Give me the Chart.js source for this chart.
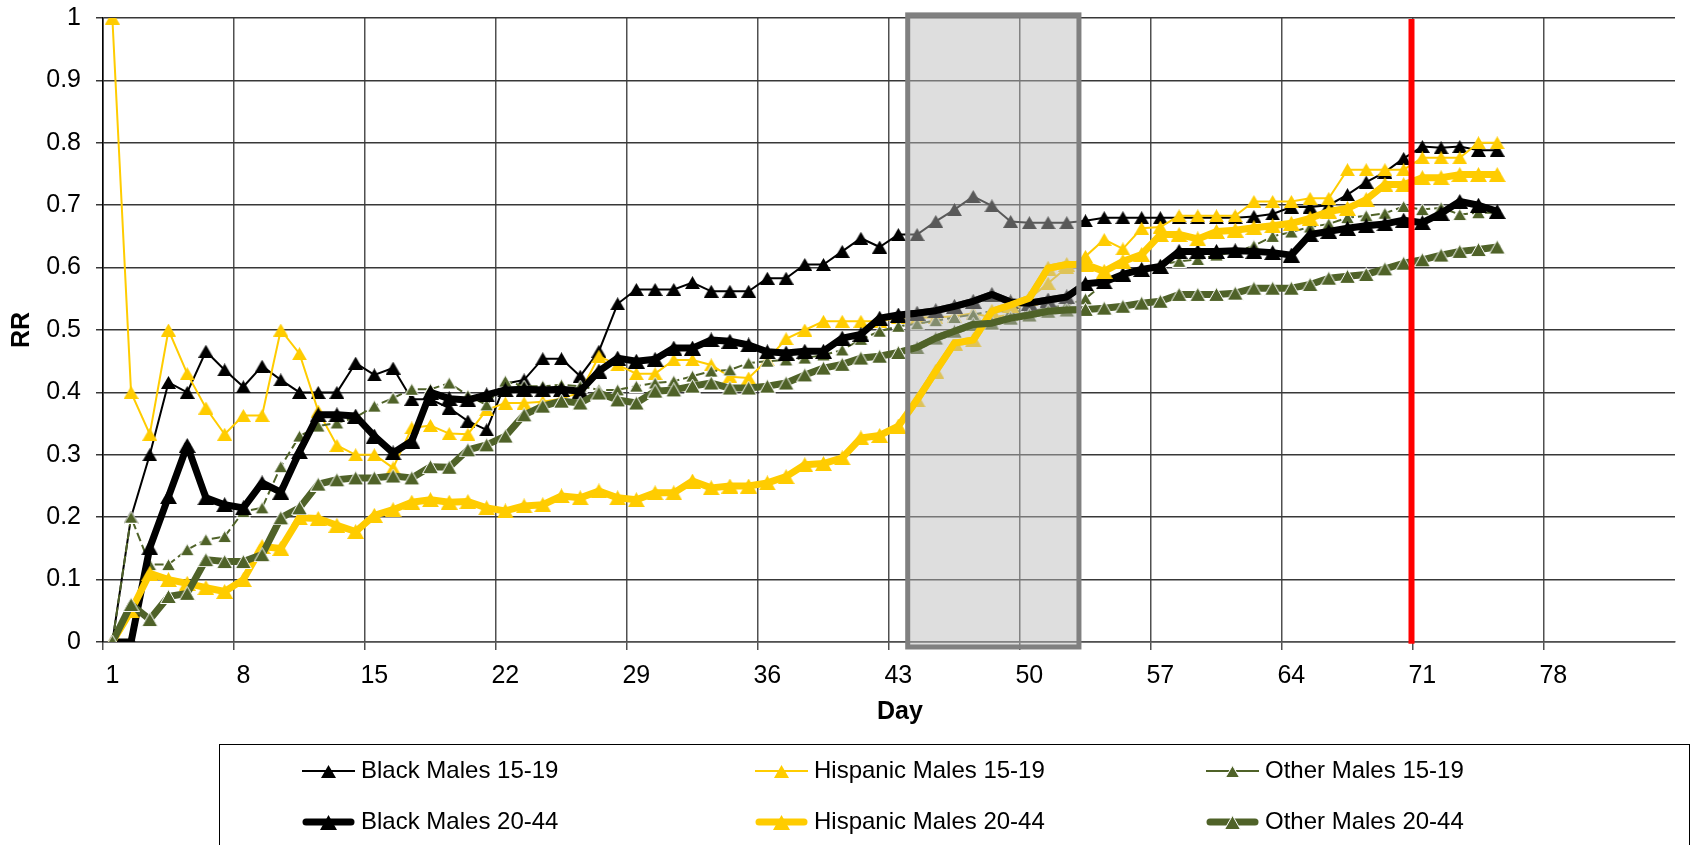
<!DOCTYPE html>
<html>
<head>
<meta charset="utf-8">
<title>RR by day</title>
<script src="https://cdn.jsdelivr.net/npm/chart.js@4/dist/chart.umd.min.js"></script>
<style>
  html, body { margin: 0; padding: 0; background: #ffffff; }
  #wrap { width: 1691px; height: 845px; position: relative; }
</style>
</head>
<body>
<div id="wrap"><canvas id="rr" width="1691" height="845"></canvas></div>
<script>
// Day axis: 84 category slots, labelled every 7th day
const days = Array.from({ length: 84 }, (_, i) => String(i + 1));
const dayTickEvery = 7;

// Relative risk by day, one array per group (days 1-75)
const blackMales15to19 = [
  0, 0.2, 0.3, 0.416, 0.4, 0.466, 0.436, 0.409, 0.442, 0.42,
  0.4, 0.4, 0.4, 0.447, 0.428, 0.439, 0.389, 0.389, 0.375, 0.354,
  0.34, 0.414, 0.42, 0.454, 0.454, 0.426, 0.466, 0.542, 0.565, 0.565,
  0.565, 0.576, 0.562, 0.562, 0.562, 0.583, 0.583, 0.605, 0.605, 0.626,
  0.647, 0.633, 0.653, 0.653, 0.674, 0.693, 0.714, 0.699, 0.674, 0.672,
  0.672, 0.672, 0.675, 0.68, 0.68, 0.68, 0.68, 0.68, 0.68, 0.68,
  0.68, 0.682, 0.686, 0.697, 0.697, 0.7, 0.717, 0.737, 0.753, 0.775,
  0.794, 0.792, 0.794, 0.788, 0.788
];
const hispanicMales15to19 = [
  1.0, 0.4, 0.333, 0.5, 0.43, 0.375, 0.333, 0.363, 0.363, 0.5,
  0.462, 0.37, 0.315, 0.3, 0.3, 0.279, 0.343, 0.347, 0.334, 0.333,
  0.372, 0.383, 0.383, 0.385, 0.39, 0.4, 0.458, 0.444, 0.43, 0.43,
  0.452, 0.452, 0.444, 0.425, 0.423, 0.452, 0.486, 0.5, 0.514, 0.514,
  0.514, 0.514, 0.52, 0.52, 0.52, 0.522, 0.527, 0.52, 0.525, 0.55,
  0.575, 0.6, 0.618, 0.645, 0.63, 0.663, 0.665, 0.683, 0.683, 0.683,
  0.683, 0.706, 0.706, 0.706, 0.711, 0.711, 0.757, 0.757, 0.757, 0.757,
  0.776, 0.776, 0.776, 0.8, 0.8
];
const otherMales15to19 = [
  0, 0.2, 0.124, 0.124, 0.148, 0.164, 0.169, 0.209, 0.215, 0.281,
  0.33, 0.346, 0.351, 0.36, 0.378, 0.391, 0.405, 0.405, 0.415, 0.395,
  0.38, 0.418, 0.41, 0.41, 0.412, 0.41, 0.404, 0.404, 0.41, 0.415,
  0.418, 0.426, 0.434, 0.436, 0.447, 0.45, 0.452, 0.455, 0.46, 0.468,
  0.485, 0.498, 0.506, 0.51, 0.515, 0.52, 0.525, 0.53, 0.53, 0.53,
  0.535, 0.54, 0.55, 0.575, 0.59, 0.6, 0.605, 0.61, 0.613, 0.62,
  0.625, 0.635, 0.65, 0.657, 0.665, 0.67, 0.68, 0.683, 0.687, 0.698,
  0.693, 0.696, 0.685, 0.688, 0.688
];
const blackMales20to44 = [
  0, 0, 0.151, 0.233, 0.315, 0.231, 0.22, 0.215, 0.255, 0.24,
  0.305, 0.364, 0.364, 0.362, 0.33, 0.303, 0.322, 0.4, 0.39, 0.388,
  0.396, 0.404, 0.405, 0.404, 0.405, 0.402, 0.434, 0.455, 0.45, 0.453,
  0.471, 0.471, 0.484, 0.482, 0.476, 0.465, 0.463, 0.466, 0.466, 0.487,
  0.493, 0.519, 0.524, 0.527, 0.531, 0.538, 0.546, 0.557, 0.545, 0.543,
  0.548, 0.553, 0.574, 0.577, 0.589, 0.597, 0.602, 0.626, 0.626, 0.626,
  0.627, 0.626, 0.624, 0.62, 0.653, 0.658, 0.663, 0.667, 0.67, 0.676,
  0.672, 0.687, 0.706, 0.7, 0.69
];
const hispanicMales20to44 = [
  0, 0.05, 0.11, 0.1, 0.094, 0.087, 0.081, 0.1, 0.153, 0.15,
  0.199, 0.198, 0.187, 0.177, 0.203, 0.212, 0.224, 0.228, 0.224, 0.225,
  0.215, 0.21, 0.218, 0.22, 0.234, 0.231, 0.242, 0.231, 0.228, 0.239,
  0.239, 0.258, 0.247, 0.25, 0.25, 0.255, 0.265, 0.284, 0.286, 0.295,
  0.327, 0.331, 0.346, 0.388, 0.434, 0.479, 0.484, 0.53, 0.54, 0.551,
  0.599, 0.605, 0.605, 0.594, 0.61, 0.621, 0.653, 0.653, 0.646, 0.658,
  0.66, 0.664, 0.667, 0.671, 0.679, 0.69, 0.695, 0.709, 0.733, 0.733,
  0.744, 0.744, 0.749, 0.749, 0.749
];
const otherMales20to44 = [
  0, 0.06, 0.036, 0.073, 0.078, 0.132, 0.129, 0.129, 0.14, 0.199,
  0.215, 0.253, 0.26, 0.263, 0.263, 0.266, 0.263, 0.281, 0.28, 0.308,
  0.316, 0.33, 0.364, 0.378, 0.386, 0.383, 0.399, 0.388, 0.383, 0.402,
  0.404, 0.41, 0.415, 0.407, 0.407, 0.41, 0.415, 0.428, 0.439, 0.445,
  0.455, 0.458, 0.464, 0.472, 0.487, 0.498, 0.509, 0.511, 0.519, 0.524,
  0.53, 0.532, 0.533, 0.535, 0.538, 0.543, 0.546, 0.557, 0.557, 0.557,
  0.559, 0.567, 0.567, 0.567, 0.573, 0.583, 0.586, 0.589, 0.598, 0.607,
  0.6125, 0.62, 0.626, 0.629, 0.633
];

// Y axis range and step
const rrMin = 0, rrMax = 1, rrStep = 0.1;

// Shaded window and marker line, in day units
const shadeFromDay = 43.5;
const shadeToDay = 52.65;
const markerDay = 70.42;

const BLACK = '#000000';
const GOLD = '#FFCC00';
const OLIVE = '#4F6228';
const FONT = "'Liberation Sans', Arial, sans-serif";

// Triangle marker sprite, centred on its bounding box
function triangleSprite(w, h, fill, stroke) {
  const c = document.createElement('canvas');
  c.width = w; c.height = h;
  const g = c.getContext('2d');
  const inset = stroke ? 0.5 : 0;
  g.beginPath();
  g.moveTo(w / 2, inset);
  g.lineTo(w - inset, h - inset);
  g.lineTo(inset, h - inset);
  g.closePath();
  g.fillStyle = fill;
  g.fill();
  if (stroke) { g.lineWidth = 1; g.strokeStyle = stroke; g.stroke(); }
  return c;
}

function series(label, data, color, thick, opts) {
  const o = opts || {};
  const w = thick ? 17 : 15, h = thick ? 15 : 13;
  return Object.assign({
    label, data,
    borderColor: color,
    backgroundColor: color,
    borderWidth: thick ? 7 : 2,
    pointStyle: triangleSprite(w, h, color, o.markerEdge),
    pointRadius: thick ? 9 : 8,
    markerEdge: o.markerEdge,
    borderJoinStyle: thick ? 'round' : 'miter',
    borderCapStyle: thick ? 'round' : 'butt',
    tension: 0,
    fill: false,
    thick
  }, o);
}

const datasets = [
  series('Black Males 15-19', blackMales15to19, BLACK, false),
  series('Hispanic Males 15-19', hispanicMales15to19, GOLD, false),
  series('Other Males 15-19', otherMales15to19, OLIVE, false,
    { borderDash: [9, 4], markerEdge: '#ffffff' }),
  series('Black Males 20-44', blackMales20to44, BLACK, true),
  series('Hispanic Males 20-44', hispanicMales20to44, GOLD, true),
  series('Other Males 20-44', otherMales20to44, OLIVE, true,
    { markerEdge: '#ffffff' })
];
// later series sit on top
datasets.forEach((d, i) => { d.order = datasets.length - i; });

const dayIndex = d => d - 1;
const gridOnWeek = ctx => (ctx.index % dayTickEvery === 0 ? '#505050' : 'rgba(0,0,0,0)');

const decorations = {
  id: 'decorations',
  afterDatasetsDraw(chart) {
    const { ctx, scales: { x, y } } = chart;
    const x0 = x.getPixelForValue(dayIndex(shadeFromDay));
    const x1 = x.getPixelForValue(dayIndex(shadeToDay));
    const yTop = y.getPixelForValue(1.005);
    const yBot = y.getPixelForValue(-0.008);

    ctx.save();
    // translucent window over the series
    ctx.fillStyle = 'rgba(185,185,185,0.48)';
    ctx.fillRect(x0, yTop, x1 - x0, yBot - yTop);

    // the 20-44 lines stay bright inside the window
    ctx.save();
    ctx.beginPath();
    ctx.rect(x0 + 2.5, yTop, x1 - x0 - 5, yBot - yTop);
    ctx.clip();
    chart.data.datasets.forEach((ds, i) => {
      if (!ds.thick) return;
      const pts = chart.getDatasetMeta(i).data;
      ctx.beginPath();
      pts.forEach((p, k) => (k ? ctx.lineTo(p.x, p.y) : ctx.moveTo(p.x, p.y)));
      ctx.lineWidth = ds.borderWidth;
      ctx.strokeStyle = ds.borderColor;
      ctx.lineJoin = 'round';
      ctx.lineCap = 'round';
      ctx.stroke();
    });
    ctx.restore();

    ctx.lineWidth = 5;
    ctx.strokeStyle = '#808080';
    ctx.strokeRect(x0, yTop, x1 - x0, yBot - yTop);

    // marker line
    const xm = x.getPixelForValue(dayIndex(markerDay));
    ctx.beginPath();
    ctx.moveTo(xm, y.getPixelForValue(1.0) + 1);
    ctx.lineTo(xm, y.getPixelForValue(-0.003));
    ctx.lineWidth = 6;
    ctx.strokeStyle = '#FF0000';
    ctx.stroke();
    ctx.restore();
  },
  afterDraw(chart) {
    const { ctx } = chart;
    ctx.save();
    // axis titles
    ctx.fillStyle = '#000';
    ctx.font = `bold 25px ${FONT}`;
    ctx.textAlign = 'center';
    ctx.textBaseline = 'middle';
    ctx.fillText('Day', 900, 712);
    ctx.save();
    ctx.translate(22, 330);
    ctx.rotate(-Math.PI / 2);
    ctx.fillText('RR', 0, 0);
    ctx.restore();

    // legend
    ctx.lineWidth = 1;
    ctx.strokeStyle = '#000';
    ctx.strokeRect(219.5, 744.5, 1470, 110);
    const colX = [302, 755, 1206];
    const rowY = [771, 822];
    const sample = 53;
    ctx.font = `24px ${FONT}`;
    ctx.textAlign = 'left';
    chart.data.datasets.forEach((ds, i) => {
      const lx = colX[i % 3];
      const ly = rowY[Math.floor(i / 3)];
      ctx.save();
      ctx.beginPath();
      ctx.moveTo(lx + (ds.thick ? 4 : 0), ly);
      ctx.lineTo(lx + sample - (ds.thick ? 4 : 0), ly);
      ctx.lineWidth = ds.borderWidth;
      ctx.strokeStyle = ds.borderColor;
      ctx.lineCap = ds.borderCapStyle;
      ctx.setLineDash([]);
      ctx.stroke();
      const s = ds.pointStyle;
      ctx.drawImage(s, Math.round(lx + sample / 2 - s.width / 2), Math.round(ly - s.height / 2));
      ctx.restore();
      ctx.fillStyle = '#000';
      ctx.fillText(ds.label, lx + sample + 6, ly);
    });
    ctx.restore();
  }
};

new Chart(document.getElementById('rr'), {
  type: 'line',
  data: { labels: days, datasets },
  options: {
    responsive: false,
    animation: false,
    devicePixelRatio: 1,
    layout: { padding: { top: 18, right: 4, left: 0, bottom: 0 } },
    plugins: { legend: { display: false }, tooltip: { enabled: false } },
    elements: { line: { tension: 0 } },
    scales: {
      x: {
        type: 'category',
        offset: true,
        grid: {
          offset: true,
          color: gridOnWeek,
          tickColor: gridOnWeek,
          lineWidth: 1.5,
          tickLength: 8
        },
        border: { color: '#505050', width: 1.5 },
        ticks: {
          autoSkip: false,
          maxRotation: 0,
          minRotation: 0,
          padding: 11,
          color: '#000',
          font: { family: FONT, size: 25 },
          callback: (v, i) => (i % dayTickEvery === 0 ? days[i] : '')
        },
        afterFit: s => { s.height = 203; s.paddingLeft = 0; s.paddingRight = 0; }
      },
      y: {
        min: rrMin,
        max: rrMax,
        grid: { color: '#383838', lineWidth: 1.5, tickLength: 7 },
        border: { color: '#000', width: 1.5 },
        ticks: {
          stepSize: rrStep,
          padding: 15,
          color: '#000',
          font: { family: FONT, size: 25 },
          callback: v => String(+v.toFixed(1))
        },
        afterFit: s => { s.width = 103; s.paddingTop = 0; s.paddingBottom = 0; }
      }
    }
  },
  plugins: [decorations]
});
</script>
</body>
</html>
